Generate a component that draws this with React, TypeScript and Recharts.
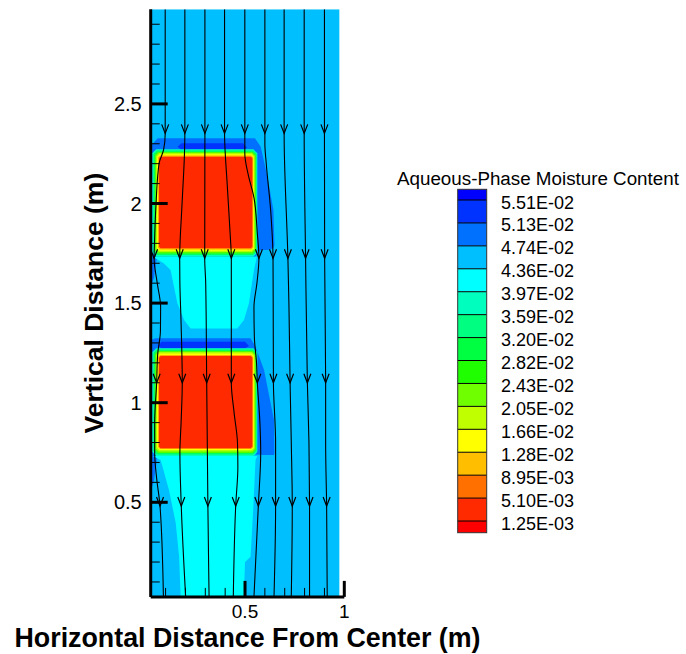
import React from 'react';
import { ComposedChart, Area, Line, Scatter, XAxis, YAxis } from 'recharts';

type Band = [number, number, number]; // x, low y, high y
type Pt = [number, number];
type Box = [number, number, number, number]; // x0, x1, y0, y1

const FONT = '"Liberation Sans", Arial, Helvetica, sans-serif';

// colour bar, top to bottom
const levelLabels = [
  '5.51E-02', '5.13E-02', '4.74E-02', '4.36E-02', '3.97E-02', '3.59E-02', '3.20E-02', '2.82E-02',
  '2.43E-02', '2.05E-02', '1.66E-02', '1.28E-02', '8.95E-03', '5.10E-03', '1.25E-03',
];
const levelColors = [
  '#0000FF', '#0033FF', '#0070FF', '#00BFFF', '#00FFFF', '#00FFBF', '#00FF80', '#00FF40',
  '#20FF00', '#70FF00', '#BFFF00', '#FFFF00', '#FFBF00', '#FF7000', '#FF2A00', '#FF0000',
];

// axis ticks
const xTicks = [0.1, 0.2, 0.3, 0.4, 0.5, 0.6, 0.7, 0.8, 0.9, 1];
const xMajor = [0.5, 1];
const yTicks = [
  0.1, 0.2, 0.3, 0.4, 0.5, 0.6, 0.7, 0.8, 0.9, 1, 1.1, 1.2, 1.3, 1.4, 1.5,
  1.6, 1.7, 1.8, 1.9, 2, 2.1, 2.2, 2.3, 2.4, 2.5, 2.6, 2.7, 2.8, 2.9,
];
const yMajor = [0.5, 1, 1.5, 2, 2.5];

// contour regions (x, low, high)
const background: Band[] = [[0.025, 0.025, 2.975], [0.975, 0.025, 2.975]];
const upperRim: Band[] = [
  [0.025, 1.733, 2.29], [0.06, 1.733, 2.327], [0.55, 1.733, 2.327], [0.579, 1.767, 2.285],
  [0.613, 1.767, 2.134], [0.643, 1.775, 1.967], [0.648, 1.79, 1.8],
];
const upperDarkest: Band[] = [[0.16, 2.285, 2.285], [0.18, 2.27, 2.302], [0.49, 2.27, 2.302], [0.51, 2.28, 2.28]];
const upperLeftStrip: Band[] = [[0.025, 1.58, 1.74], [0.042, 1.63, 1.74], [0.055, 1.72, 1.74]];
const upperCyan: Band[] = [
  [0.036, 1.733, 1.733], [0.09, 1.7, 1.733], [0.125, 1.666, 1.733], [0.159, 1.5, 1.733],
  [0.193, 1.415, 1.733], [0.226, 1.373, 1.733], [0.461, 1.373, 1.733], [0.495, 1.415, 1.733],
  [0.52, 1.5, 1.733], [0.545, 1.666, 1.733], [0.56, 1.733, 1.733],
];
const lowerRim: Band[] = [
  [0.025, 0.74, 1.315], [0.05, 0.74, 1.323], [0.528, 0.74, 1.323], [0.553, 0.74, 1.281],
  [0.596, 0.737, 1.164], [0.629, 0.737, 0.997], [0.646, 0.737, 0.913], [0.648, 0.745, 0.76],
];
const lowerDarkest: Band[] = [[0.06, 1.285, 1.285], [0.08, 1.273, 1.306], [0.5, 1.273, 1.306], [0.52, 1.285, 1.285]];
const lowerLeftStrip: Band[] = [[0.025, 0.56, 0.74], [0.04, 0.6, 0.74], [0.055, 0.7, 0.74]];
const lowerCyan: Band[] = [
  [0.035, 0.732, 0.732], [0.075, 0.712, 0.732], [0.117, 0.562, 0.732], [0.151, 0.396, 0.732],
  [0.168, 0.227, 0.732], [0.176, 0.025, 0.732], [0.494, 0.025, 0.732], [0.5, 0.2, 0.732],
  [0.528, 0.227, 0.732], [0.542, 0.478, 0.732], [0.553, 0.712, 0.732], [0.562, 0.732, 0.732],
];

// dry blocks with their transition rings, outer to inner
const ringColors = ['#00FFBF', '#00FF60', '#50FF00', '#B0FF00', '#FFFF00', '#FFA800', '#FF2A00'];
const ringCorner = [0.02, 0.018, 0.016, 0.014, 0.012, 0.01, 0.008];
const upperBlock: Box[] = [
  [0.033, 0.562, 1.733, 2.272], [0.039, 0.558, 1.741, 2.266], [0.046, 0.554, 1.749, 2.259],
  [0.052, 0.549, 1.756, 2.253], [0.057, 0.545, 1.763, 2.247], [0.062, 0.541, 1.769, 2.241],
  [0.067, 0.537, 1.775, 2.235],
];
const lowerBlock: Box[] = [
  [0.033, 0.562, 0.732, 1.273], [0.039, 0.558, 0.74, 1.267], [0.046, 0.554, 0.748, 1.26],
  [0.052, 0.549, 0.755, 1.254], [0.057, 0.545, 0.762, 1.247], [0.062, 0.541, 0.767, 1.24],
  [0.067, 0.537, 0.771, 1.234],
];

// streamlines (x, y), top to bottom
const stream1: Pt[] = [[0.098, 2.975], [0.098, 2.35], [0.09, 2.27], [0.067, 2.2], [0.052, 2.0], [0.044, 1.8], [0.042, 1.725], [0.058, 1.6], [0.075, 1.48], [0.074, 1.36], [0.06, 1.24], [0.055, 1.1], [0.045, 0.9], [0.045, 0.75], [0.055, 0.62], [0.072, 0.481], [0.089, 0.025]];
const stream2: Pt[] = [[0.197, 2.975], [0.197, 2.35], [0.195, 2.25], [0.183, 2.0], [0.171, 1.725], [0.172, 1.6], [0.178, 1.4], [0.184, 1.1], [0.178, 0.9], [0.172, 0.75], [0.179, 0.481], [0.201, 0.025]];
const stream3: Pt[] = [[0.298, 2.975], [0.298, 2.35], [0.297, 1.725], [0.302, 1.6], [0.307, 1.1], [0.31, 0.8], [0.313, 0.481], [0.319, 0.025]];
const stream4: Pt[] = [[0.397, 2.975], [0.397, 2.35], [0.41, 2.1], [0.425, 1.85], [0.431, 1.725], [0.431, 1.1], [0.445, 0.95], [0.462, 0.8], [0.464, 0.68], [0.453, 0.481], [0.441, 0.025]];
const stream5: Pt[] = [[0.499, 2.975], [0.499, 2.25], [0.515, 2.15], [0.545, 2.03], [0.562, 1.85], [0.57, 1.725], [0.56, 1.6], [0.545, 1.48], [0.547, 1.33], [0.558, 1.2], [0.562, 1.1], [0.575, 0.9], [0.579, 0.75], [0.567, 0.481], [0.545, 0.025]];
const stream6: Pt[] = [[0.6, 2.975], [0.6, 2.3], [0.607, 2.2], [0.629, 1.967], [0.641, 1.725], [0.643, 1.1], [0.654, 0.8], [0.654, 0.481], [0.646, 0.025]];
const stream7: Pt[] = [[0.697, 2.975], [0.697, 2.35], [0.716, 1.725], [0.721, 1.5], [0.727, 1.1], [0.733, 0.8], [0.738, 0.481], [0.733, 0.025]];
const stream8: Pt[] = [[0.798, 2.975], [0.798, 2.35], [0.805, 1.725], [0.814, 1.1], [0.822, 0.8], [0.825, 0.481], [0.825, 0.025]];
const stream9: Pt[] = [[0.9, 2.975], [0.9, 2.35], [0.901, 1.725], [0.906, 1.1], [0.906, 0.8], [0.911, 0.481], [0.914, 0.025]];

// arrow tips
const arrowTips: Pt[] = [
  [0.098, 2.352], [0.197, 2.352], [0.298, 2.352], [0.397, 2.352], [0.499, 2.352], [0.6, 2.352], [0.697, 2.352], [0.798, 2.352], [0.9, 2.352],
  [0.042, 1.725], [0.171, 1.725], [0.297, 1.725], [0.431, 1.725], [0.57, 1.725], [0.641, 1.725], [0.716, 1.725], [0.805, 1.725], [0.901, 1.725],
  [0.055, 1.1], [0.184, 1.1], [0.307, 1.1], [0.431, 1.1], [0.562, 1.1], [0.643, 1.1], [0.727, 1.1], [0.814, 1.1], [0.906, 1.1],
  [0.072, 0.481], [0.179, 0.481], [0.313, 0.481], [0.453, 0.481], [0.567, 0.481], [0.654, 0.481], [0.738, 0.481], [0.825, 0.481], [0.911, 0.481],
];

const toBand = (b: Band[]) => b.map(([x, lo, hi]) => ({ x, r: [lo, hi] }));
const toPts = (p: Pt[]) => p.map(([x, y]) => ({ x, y }));
const chamfer = ([x0, x1, y0, y1]: Box, c: number) => [
  { x: x0, r: [y0 + c, y1 - c] },
  { x: x0 + c, r: [y0, y1] },
  { x: x1 - c, r: [y0, y1] },
  { x: x1, r: [y0 + c, y1 - c] },
];

const fieldLayers = [
  { color: levelColors[3], data: toBand(background) },
  { color: levelColors[2], data: toBand(upperRim) },
  { color: levelColors[1], data: toBand(upperDarkest) },
  { color: levelColors[2], data: toBand(upperLeftStrip) },
  { color: levelColors[4], data: toBand(upperCyan) },
  { color: levelColors[2], data: toBand(lowerRim) },
  { color: levelColors[1], data: toBand(lowerDarkest) },
  { color: levelColors[2], data: toBand(lowerLeftStrip) },
  { color: levelColors[4], data: toBand(lowerCyan) },
  ...upperBlock.map((b, i) => ({ color: ringColors[i], data: chamfer(b, ringCorner[i]) })),
  ...lowerBlock.map((b, i) => ({ color: ringColors[i], data: chamfer(b, ringCorner[i]) })),
];
const streams = [stream1, stream2, stream3, stream4, stream5, stream6, stream7, stream8, stream9].map(toPts);

const ArrowHead = (p: any) => {
  const { cx, cy } = p;
  return <path d={`M${cx - 3.5},${cy - 9}L${cx},${cy}L${cx + 3.5},${cy - 9}`} fill="none" stroke="#000" strokeWidth={1.2} />;
};

const YTick = (p: any) => {
  const { x, y, payload } = p;
  const major = yMajor.includes(payload.value);
  return (
    <g>
      <line x1={x} x2={x + (major ? 17 : 9)} y1={y} y2={y} stroke="#000" strokeWidth={major ? 3 : 1} />
      {major && (
        <text x={x - 9} y={y + 7} textAnchor="end" fontSize={20} fontFamily={FONT} fill="#000">
          {String(payload.value)}
        </text>
      )}
    </g>
  );
};

const XTick = (p: any) => {
  const { x, y, payload } = p;
  const major = xMajor.includes(payload.value);
  return (
    <g>
      <line x1={x} x2={x} y1={y} y2={y - (major ? 16 : 9)} stroke="#000" strokeWidth={major ? 3 : 1} />
      {major && (
        <text x={x} y={y + 21} textAnchor="middle" fontSize={19} fontFamily={FONT} fill="#000">
          {String(payload.value)}
        </text>
      )}
    </g>
  );
};

function ColorBar() {
  const left = 457.7;
  const w = 29;
  const top = 189.3;
  const bottom = 532.7;
  const lineY = levelLabels.map((_, i) => 200 + i * 22.93);
  return (
    <svg width={686} height={654} style={{ position: 'absolute', left: 0, top: 0, pointerEvents: 'none' }}>
      <text x={397} y={185} fontSize={18.8} fontFamily={FONT} fill="#000">Aqueous-Phase Moisture Content</text>
      {levelColors.map((c, i) => {
        const y0 = i === 0 ? top : lineY[i - 1];
        const y1 = i === levelColors.length - 1 ? bottom : lineY[i];
        return <rect key={c} x={left} y={y0} width={w} height={y1 - y0} fill={c} />;
      })}
      {lineY.map((y, i) => (
        <g key={i}>
          <line x1={left} x2={left + w} y1={y} y2={y} stroke="#000" strokeWidth={1} />
          <text x={501} y={y + 8.5} fontSize={18} fontFamily={FONT} fill="#000">{levelLabels[i]}</text>
        </g>
      ))}
      <rect x={left} y={top} width={w} height={bottom - top} fill="none" stroke="#333" strokeWidth={1} />
    </svg>
  );
}

export default function App() {
  return (
    <div style={{ position: 'absolute', left: 0, top: 0, width: 686, height: 654, background: '#fff' }}>
      <ComposedChart width={686} height={654} margin={{ top: 9.3, right: 341.7, bottom: 0, left: 0 }}>
        {fieldLayers.map((l, i) => (
          <Area
            key={`f${i}`}
            data={l.data}
            dataKey="r"
            type="linear"
            stroke="none"
            fill={l.color}
            fillOpacity={1}
            dot={false}
            activeDot={false}
            isAnimationActive={false}
          />
        ))}
        <XAxis
          dataKey="x"
          type="number"
          domain={[0.025, 1]}
          allowDataOverflow
          ticks={xTicks}
          interval={0}
          height={57.1}
          tickSize={0}
          tickMargin={0}
          tick={<XTick />}
          axisLine={{ stroke: '#000', strokeWidth: 3 }}
          label={{
            content: (p: any) => (
              <text
                x={p.viewBox.x + p.viewBox.width / 2}
                y={p.viewBox.y + 50}
                textAnchor="middle"
                fontSize={26.8}
                fontWeight="bold"
                fontFamily={FONT}
                fill="#000"
              >
                Horizontal Distance From Center (m)
              </text>
            ),
          }}
        />
        <YAxis
          dataKey="y"
          type="number"
          domain={[0.025, 2.975]}
          allowDataOverflow
          ticks={yTicks}
          interval={0}
          width={150.7}
          tickSize={0}
          tickMargin={0}
          tick={<YTick />}
          axisLine={{ stroke: '#000', strokeWidth: 3 }}
          label={{
            content: (p: any) => {
              const cy = p.viewBox.y + p.viewBox.height / 2;
              return (
                <text
                  x={103}
                  y={cy}
                  transform={`rotate(-90, 103, ${cy})`}
                  textAnchor="middle"
                  fontSize={26.5}
                  fontWeight="bold"
                  fontFamily={FONT}
                  fill="#000"
                >
                  Vertical Distance (m)
                </text>
              );
            },
          }}
        />
        {streams.map((s, i) => (
          <Line
            key={`s${i}`}
            data={s}
            dataKey="y"
            type="monotoneY"
            stroke="#000"
            strokeWidth={1.1}
            dot={false}
            activeDot={false}
            isAnimationActive={false}
          />
        ))}
        <Scatter data={toPts(arrowTips)} dataKey="y" shape={<ArrowHead />} isAnimationActive={false} />
      </ComposedChart>
      <ColorBar />
    </div>
  );
}
